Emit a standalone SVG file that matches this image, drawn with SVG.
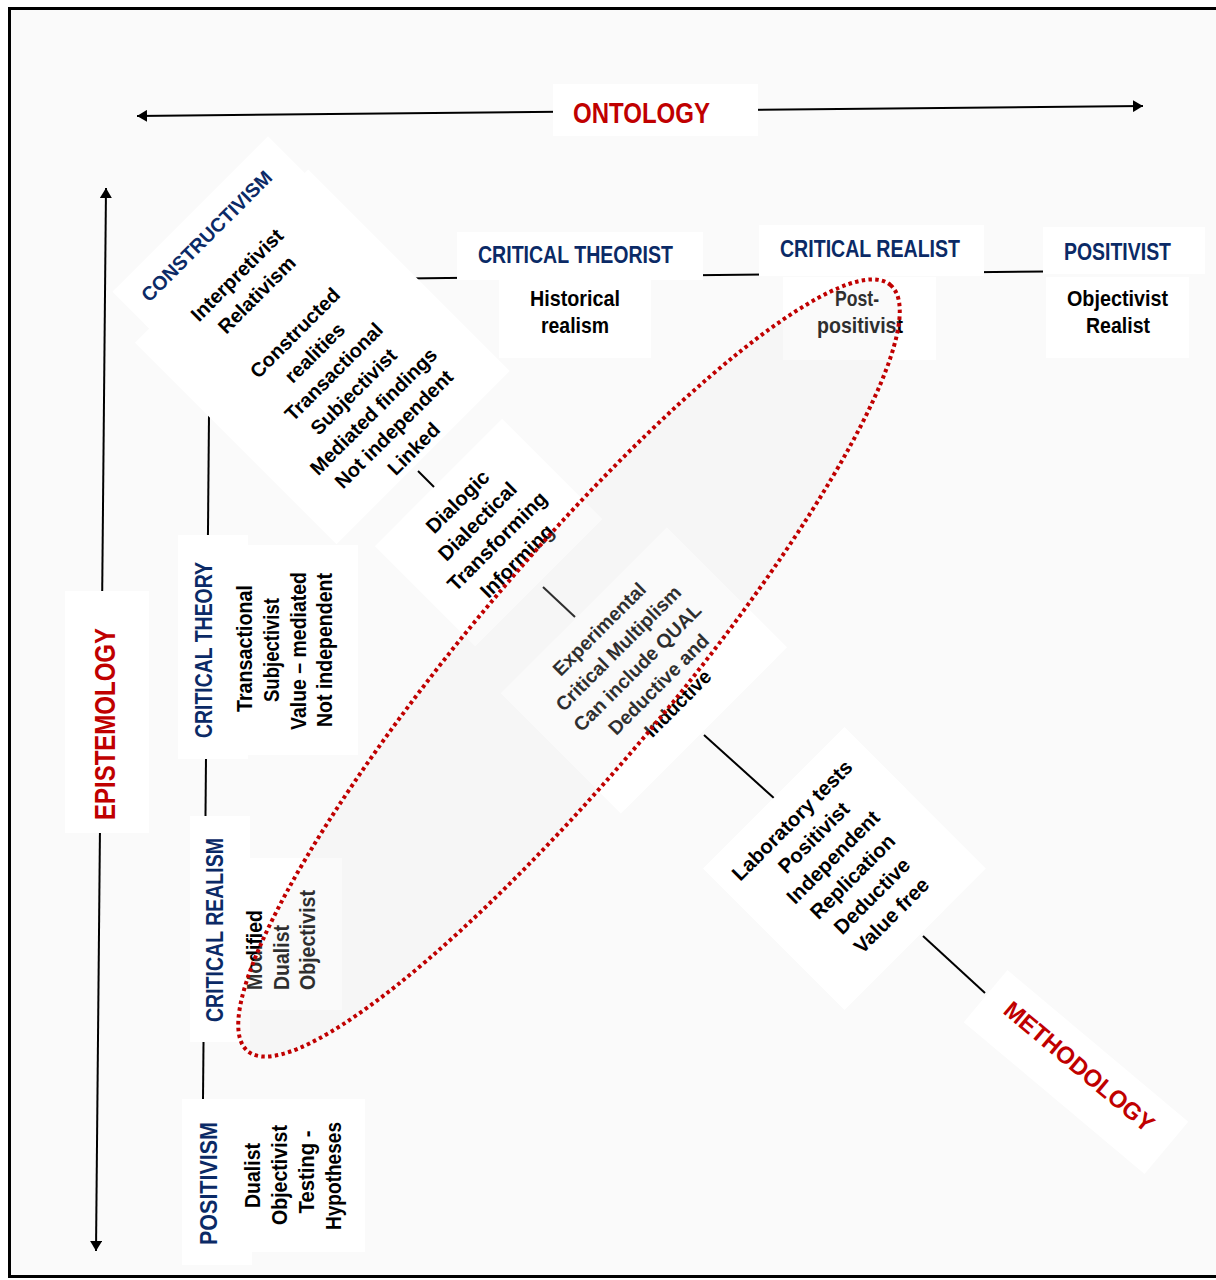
<svg xmlns="http://www.w3.org/2000/svg" width="1216" height="1280" viewBox="0 0 1216 1280">
<defs>
<style>
text { font-family: "Liberation Sans", Arial, sans-serif; }
.b { font-weight: bold; }
.navy { fill: #0b2a66; }
.red { fill: #c00000; }
.blk { fill: #000; }
.c { text-anchor: middle; }
.box { fill: #ffffff; }
.ln { stroke: #000; stroke-width: 2; fill: none; }
</style>
<marker id="ah" viewBox="0 0 10 12" refX="10" refY="6" markerWidth="10" markerHeight="12" markerUnits="userSpaceOnUse" orient="auto-start-reverse">
<path d="M0,0 L10,6 L0,12 z" fill="#000"/>
</marker>
</defs>

<!-- page and frame -->
<rect x="0" y="0" width="1216" height="1280" fill="#ffffff"/>
<rect x="9.5" y="8.5" width="1230" height="1268" fill="#fafafa" stroke="#000" stroke-width="3"/>

<!-- connectors and axes -->
<g id="connectors">
<path class="ln" stroke-width="2.5" d="M137,116 L1143,106" marker-start="url(#ah)" marker-end="url(#ah)"/>
<path class="ln" stroke-width="2.5" d="M106,188 L96,1251" marker-start="url(#ah)" marker-end="url(#ah)"/>
<path class="ln" d="M405,278.5 L1045,271.5"/>
<path class="ln" d="M209,415 L203,1100"/>
<path class="ln" d="M418,471 L435,488"/>
<path class="ln" d="M543,587 L575,617"/>
<path class="ln" d="M704,735 L775,799"/>
<path class="ln" d="M923,936 L985,993"/>
</g>

<!-- axis labels -->
<g id="ontology">
<rect class="box" x="553" y="84" width="205" height="52"/>
<text class="b red c" font-size="29" x="641.5" y="123" textLength="137" lengthAdjust="spacingAndGlyphs">ONTOLOGY</text>
</g>
<g id="epistemology">
<rect class="box" x="65" y="591" width="84" height="242"/>
<text class="b red c" font-size="29" transform="rotate(-90)" x="-724" y="115" textLength="192" lengthAdjust="spacingAndGlyphs">EPISTEMOLOGY</text>
</g>
<g id="methodology" transform="translate(1076,1072) rotate(40)">
<rect class="box" x="-118" y="-34" width="236" height="68"/>
<text class="b red c" font-size="24" x="-1" y="2" textLength="188" lengthAdjust="spacingAndGlyphs">METHODOLOGY</text>
</g>

<!-- ontology row -->
<g id="critical-theorist">
<rect class="box" x="457" y="232" width="246" height="48"/>
<rect class="box" x="499" y="280" width="152" height="78"/>
<text class="b navy c" font-size="23" x="575.5" y="263" textLength="195" lengthAdjust="spacingAndGlyphs">CRITICAL THEORIST</text>
<text class="b blk c" font-size="22" x="575" y="306" textLength="90" lengthAdjust="spacingAndGlyphs">Historical</text>
<text class="b blk c" font-size="22" x="575" y="333" textLength="68" lengthAdjust="spacingAndGlyphs">realism</text>
</g>
<g id="critical-realist">
<rect class="box" x="759" y="225" width="225" height="51"/>
<rect class="box" x="783" y="277" width="153" height="83"/>
<text class="b navy c" font-size="23" x="870" y="257" textLength="180" lengthAdjust="spacingAndGlyphs">CRITICAL REALIST</text>
<text class="b blk c" font-size="22" x="857" y="306" textLength="44" lengthAdjust="spacingAndGlyphs">Post-</text>
<text class="b blk c" font-size="22" x="860" y="333" textLength="86" lengthAdjust="spacingAndGlyphs">positivist</text>
</g>
<g id="positivist">
<rect class="box" x="1043" y="227" width="162" height="47"/>
<rect class="box" x="1046" y="277" width="143" height="81"/>
<text class="b navy c" font-size="23" x="1117.5" y="260" textLength="107" lengthAdjust="spacingAndGlyphs">POSITIVIST</text>
<text class="b blk c" font-size="22" x="1117.5" y="306" textLength="101" lengthAdjust="spacingAndGlyphs">Objectivist</text>
<text class="b blk c" font-size="22" x="1118" y="333" textLength="64" lengthAdjust="spacingAndGlyphs">Realist</text>
</g>

<!-- epistemology column (vertical text: x = -centreY, y = baselineX) -->
<g id="critical-theory">
<rect class="box" x="178" y="535" width="70" height="224"/>
<rect class="box" x="248" y="545" width="110" height="210"/>
<g transform="rotate(-90)">
<text class="b navy c" font-size="23" x="-650" y="212" textLength="176" lengthAdjust="spacingAndGlyphs">CRITICAL THEORY</text>
<text class="b blk c" font-size="22" x="-648.5" y="252" textLength="127" lengthAdjust="spacingAndGlyphs">Transactional</text>
<text class="b blk c" font-size="22" x="-650" y="279" textLength="104" lengthAdjust="spacingAndGlyphs">Subjectivist</text>
<text class="b blk c" font-size="22" x="-651" y="306" textLength="158" lengthAdjust="spacingAndGlyphs">Value – mediated</text>
<text class="b blk c" font-size="22" x="-650" y="332" textLength="154" lengthAdjust="spacingAndGlyphs">Not independent</text>
</g>
</g>
<g id="critical-realism">
<rect class="box" x="190" y="816" width="60" height="226"/>
<rect class="box" x="250" y="858" width="92" height="152"/>
<g transform="rotate(-90)">
<text class="b navy c" font-size="23" x="-930" y="223" textLength="184" lengthAdjust="spacingAndGlyphs">CRITICAL REALISM</text>
<text class="b blk" font-size="22" x="-990" y="262" textLength="80" lengthAdjust="spacingAndGlyphs">Modified</text>
<text class="b blk" font-size="22" x="-990" y="289" textLength="65" lengthAdjust="spacingAndGlyphs">Dualist</text>
<text class="b blk" font-size="22" x="-990" y="315" textLength="100" lengthAdjust="spacingAndGlyphs">Objectivist</text>
</g>
</g>
<g id="positivism">
<rect class="box" x="182" y="1099" width="70" height="166"/>
<rect class="box" x="252" y="1099" width="113" height="153"/>
<g transform="rotate(-90)">
<text class="b navy c" font-size="23" x="-1183.5" y="217" textLength="123" lengthAdjust="spacingAndGlyphs">POSITIVISM</text>
<text class="b blk c" font-size="22" x="-1175.5" y="260" textLength="65" lengthAdjust="spacingAndGlyphs">Dualist</text>
<text class="b blk c" font-size="22" x="-1175" y="287" textLength="100" lengthAdjust="spacingAndGlyphs">Objectivist</text>
<text class="b blk c" font-size="22" x="-1172" y="314" textLength="83" lengthAdjust="spacingAndGlyphs">Testing -</text>
<text class="b blk c" font-size="22" x="-1176" y="341" textLength="108" lengthAdjust="spacingAndGlyphs">Hypotheses</text>
</g>
</g>

<!-- methodology diagonal -->
<g id="constructivism" transform="translate(321,359) rotate(-45)">
<rect class="box" x="-100" y="-195" width="220" height="60"/>
<rect class="box" x="-120" y="-143" width="245" height="285"/>
<text class="b navy c" font-size="19.5" x="6" y="-161">CONSTRUCTIVISM</text>
<text class="b blk c" font-size="20" x="0" y="-112">Interpretivist</text>
<text class="b blk c" font-size="20" x="0" y="-84">Relativism</text>
<text class="b blk c" font-size="20" x="0" y="-30">Constructed</text>
<text class="b blk c" font-size="20" x="0" y="-2">realities</text>
<text class="b blk c" font-size="20" x="0" y="25">Transactional</text>
<text class="b blk c" font-size="20" x="0" y="53">Subjectivist</text>
<text class="b blk c" font-size="20" x="0" y="81">Mediated findings</text>
<text class="b blk c" font-size="20" x="2" y="108">Not independent</text>
<text class="b blk c" font-size="20" x="2" y="136">Linked</text>
</g>
<g id="dialogic" transform="translate(488,532) rotate(-45)">
<rect class="box" x="-90" y="-70" width="180" height="142"/>
<text class="b blk c" font-size="20.5" x="0" y="-36">Dialogic</text>
<text class="b blk c" font-size="20.5" x="0" y="-8">Dialectical</text>
<text class="b blk c" font-size="20.5" x="0" y="20">Transforming</text>
<text class="b blk c" font-size="20.5" x="0" y="48">Informing</text>
</g>
<g id="experimental" transform="translate(640,670) rotate(-45)">
<rect class="box" x="-115" y="-82" width="235" height="170"/>
<text class="b blk c" font-size="19.5" x="0" y="-51">Experimental</text>
<text class="b blk c" font-size="19.5" x="0" y="-24">Critical Multiplism</text>
<text class="b blk c" font-size="19.5" x="0" y="3">Can include QUAL</text>
<text class="b blk c" font-size="19.5" x="3" y="30">Deductive and</text>
<text class="b blk c" font-size="19.5" x="3" y="57">Inductive</text>
</g>
<g id="laboratory" transform="translate(848,872) rotate(-45)">
<rect class="box" x="-100" y="-105" width="200" height="200"/>
<text class="b blk c" font-size="20.5" x="-3" y="-69">Laboratory tests</text>
<text class="b blk c" font-size="20.5" x="0" y="-41.5">Positivist</text>
<text class="b blk c" font-size="20.5" x="0" y="-14">Independent</text>
<text class="b blk c" font-size="20.5" x="0" y="13.5">Replication</text>
<text class="b blk c" font-size="20.5" x="0" y="41">Deductive</text>
<text class="b blk c" font-size="20.5" x="0" y="68.5">Value free</text>
</g>

<!-- dotted enclosure over the post-positivist band -->
<g id="post-positivist-band">
<ellipse cx="569" cy="668" rx="500" ry="102" transform="rotate(-50 569 668)" fill="#e6e6e6" fill-opacity="0.2" stroke="#c00000" stroke-width="4" stroke-dasharray="3.5 3.3"/>
</g>
</svg>
